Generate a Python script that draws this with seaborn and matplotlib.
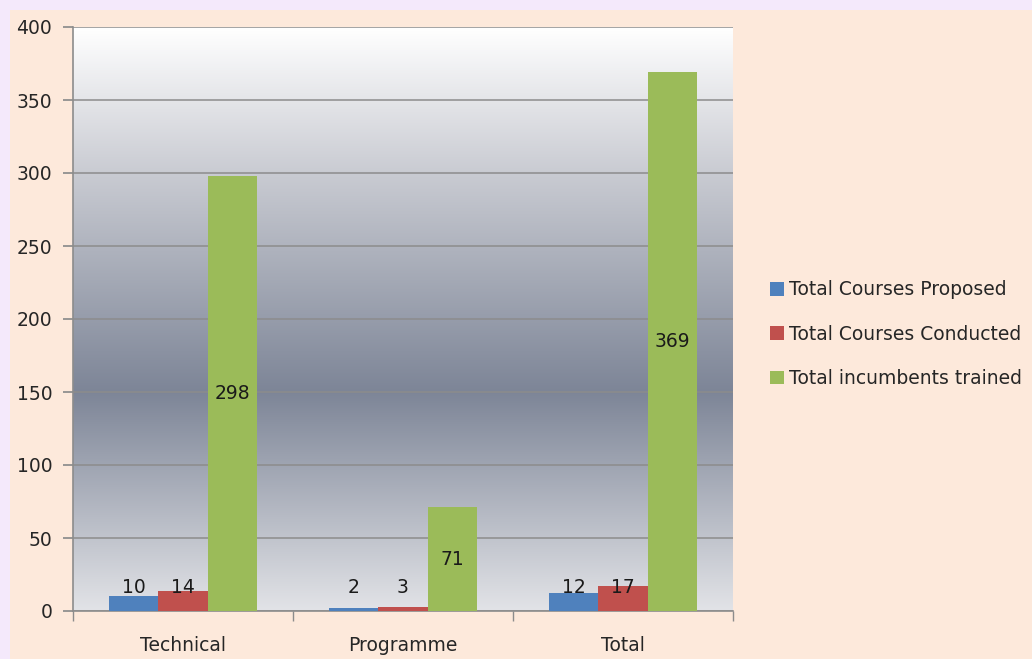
import numpy as np
import pandas as pd
import seaborn as sns
import matplotlib.pyplot as plt
from matplotlib.colors import LinearSegmentedColormap
from matplotlib.patches import Rectangle

categories = ['Technical', 'Programme', 'Total']
series = ['Total Courses Proposed', 'Total Courses Conducted', 'Total incumbents trained']
proposed = [10, 2, 12]
conducted = [14, 3, 17]
trained = [298, 71, 369]
colors = ['#4F81BD', '#C0504D', '#9BBB59']

df = pd.DataFrame({
    'category': categories * 3,
    'series': [series[0]] * 3 + [series[1]] * 3 + [series[2]] * 3,
    'value': proposed + conducted + trained,
})

sns.set_theme(style='white')
plt.rcParams['font.family'] = ['DejaVu Sans']

fig = plt.figure(figsize=(10.32, 6.59), dpi=100, facecolor='#F4E9FB')
# peach panel behind everything
fig.add_artist(Rectangle((10 / 1032, 0), 1, 1 - 10 / 659, transform=fig.transFigure,
                         facecolor='#FDE9DB', edgecolor='none', zorder=-10))

ax = fig.add_axes([73 / 1032, 48 / 659, 660 / 1032, 584 / 659])
ax.set_facecolor('none')

# vertical gradient background of the plot area
grad_cmap = LinearSegmentedColormap.from_list(
    'bg', [(0.0, '#E2E3E7'), (0.375, '#7D8597'), (0.75, '#C9CBD2'), (1.0, '#FFFFFF')])
grad = np.linspace(0, 1, 256).reshape(-1, 1)
ax.imshow(grad, cmap=grad_cmap, aspect='auto', origin='lower',
          extent=[0, 1, 0, 1], transform=ax.transAxes, zorder=0)

sns.barplot(data=df, x='category', y='value', hue='series', palette=colors,
            width=0.675, saturation=1, linewidth=0, ax=ax, zorder=3)

ax.set_ylim(0, 400)
ax.set_xlim(-0.5, 2.5)
ax.set_yticks(range(0, 401, 50))
ax.yaxis.grid(True, color='#8C8C8C', linewidth=1.1, zorder=1)
ax.set_axisbelow(True)
ax.set_xlabel('')
ax.set_ylabel('')

for s in ['top', 'right']:
    ax.spines[s].set_visible(False)
for s in ['left', 'bottom']:
    ax.spines[s].set_color('#8C8C8C')
    ax.spines[s].set_linewidth(1.2)

ax.tick_params(axis='y', which='both', left=True, length=7, color='#8C8C8C',
               labelsize=13.5, labelcolor='#262626', pad=8)
ax.tick_params(axis='x', which='major', bottom=False, labelsize=13.5,
               labelcolor='#262626', pad=12)
ax.set_xticks([-0.5, 0.5, 1.5, 2.5], minor=True)
ax.tick_params(axis='x', which='minor', bottom=True, length=7, color='#8C8C8C')

# value labels
for cont in ax.containers:
    for bar in cont:
        v = bar.get_height()
        y = max(v / 2, 16)
        ax.text(bar.get_x() + bar.get_width() / 2, y, f'{v:.0f}',
                ha='center', va='center', fontsize=13.5, color='#1A1A1A', zorder=5)

handles, labels = ax.get_legend_handles_labels()
ax.legend(handles, labels, loc='center left', bbox_to_anchor=(1.03, 0.474),
          frameon=False, fontsize=13.5, handlelength=0.75, handleheight=0.75,
          handletextpad=0.3, labelspacing=1.35, labelcolor='#262626')

fig.savefig('out.png', dpi=100, facecolor=fig.get_facecolor())
